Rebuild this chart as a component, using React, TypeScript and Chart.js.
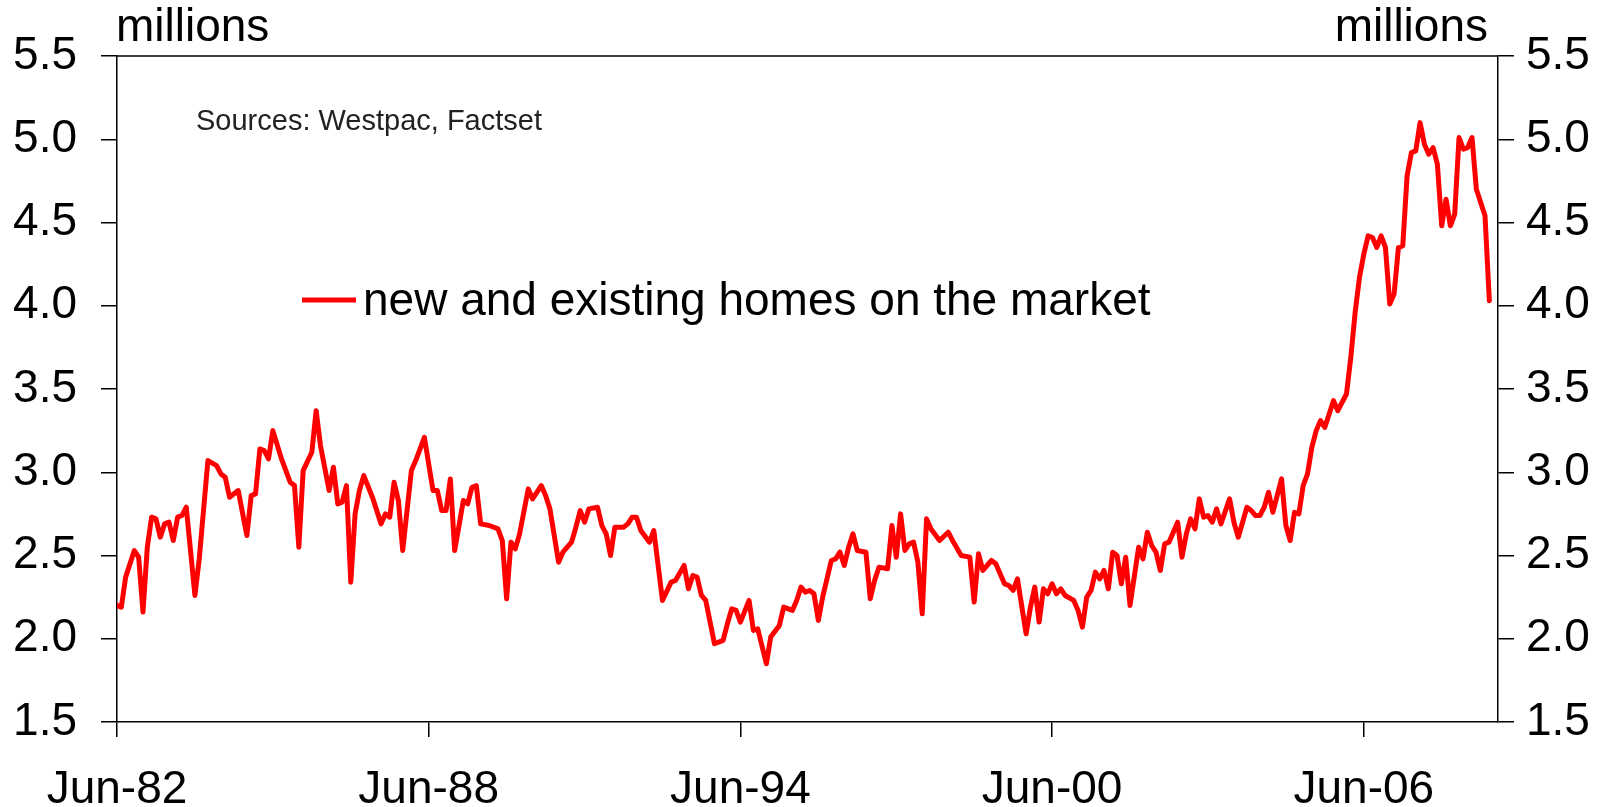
import React, { useEffect, useRef } from "react";
import { Chart, registerables } from "chart.js";

Chart.register(...registerables);

// Month offsets from Jun-1982 (0 = Jun-82, 12 = Jun-83, ...)
const months: number[] = [
  0, 1, 2, 4, 5, 6, 7, 8, 9, 10, 11, 12, 13, 14, 15, 16, 18, 19, 21, 23,
  24, 25, 26, 28, 30, 31, 32, 33, 34, 35, 36, 38, 40, 41, 42, 43, 45, 46, 47, 49,
  50, 51, 52, 53, 54, 55, 56, 57, 59, 61, 62, 63, 64, 65, 66, 68, 69, 71, 73, 74,
  75, 76, 77, 78, 80, 81, 82, 83, 84, 86, 88,
  89, 90, 91, 92, 93, 95, 96, 98, 99, 100, 102, 103, 105, 106, 107, 108, 109, 111, 112,
  113, 114, 115, 117, 118, 119, 120, 121, 123, 124, 126, 128, 129, 131, 132, 133, 134, 135, 136,
  138, 140, 141, 142, 143, 144, 146, 147, 148, 150, 151, 153, 154, 156, 157, 158, 159, 160, 161,
  162, 163, 165, 166, 167, 168, 169, 170, 171, 173, 174, 175, 176, 178, 179, 180,
  181, 182, 183, 184, 185, 186, 187, 188, 190, 192, 193, 195, 197, 198, 199, 200, 202, 203, 205,
  206, 207, 208, 210, 211, 212, 213, 214, 215, 216, 217, 218, 219, 221, 222, 223, 224, 225, 226,
  227, 228, 229, 230, 231, 232, 233, 234, 236, 237, 238,
  239, 240, 241, 242, 243, 245, 246, 247, 248, 249, 250, 251, 252, 253, 254, 255, 257, 258, 259,
  261, 262, 263, 264, 265, 266, 267, 269, 270, 271, 272, 273, 274, 275, 276, 277, 278, 279, 281,
  282, 284, 285, 286, 287, 288, 289, 290, 291, 292, 293, 294, 295, 296, 297, 298, 299, 300, 301,
  302, 303, 304, 305, 306, 307, 308, 309, 310, 311, 312, 313, 314, 315, 316, 317,
];

// New and existing homes on the market, millions
const homesOnMarket: number[] = [
  2.2, 2.19, 2.37, 2.53, 2.49, 2.16, 2.55, 2.73, 2.72, 2.61, 2.69, 2.7, 2.59, 2.73, 2.74, 2.79, 2.26, 2.48, 3.07, 3.04,
  2.99, 2.97, 2.85, 2.89, 2.62, 2.86, 2.87, 3.14, 3.13, 3.08, 3.25, 3.08, 2.94, 2.92, 2.55, 3.01, 3.12, 3.37, 3.16, 2.89,
  3.03, 2.81, 2.82, 2.92, 2.34, 2.75, 2.89, 2.98, 2.85, 2.69, 2.75, 2.73, 2.94, 2.83, 2.53, 3.01, 3.07, 3.21, 2.89, 2.89,
  2.77, 2.77, 2.96, 2.53, 2.83, 2.81, 2.91, 2.92, 2.69, 2.68, 2.66,
  2.59, 2.24, 2.58, 2.54, 2.63, 2.9, 2.84, 2.92, 2.86, 2.78, 2.46, 2.52, 2.58, 2.67, 2.77, 2.7, 2.78, 2.79, 2.68,
  2.63, 2.5, 2.67, 2.67, 2.69, 2.73, 2.73, 2.65, 2.58, 2.65, 2.23, 2.34, 2.35, 2.44, 2.3, 2.38, 2.37, 2.26, 2.23,
  1.97, 1.99, 2.09, 2.18, 2.17, 2.1, 2.23, 2.05, 2.06, 1.85, 2.01, 2.08, 2.19, 2.17, 2.23, 2.31, 2.28, 2.29, 2.27,
  2.11, 2.25, 2.47, 2.48, 2.52, 2.44, 2.55, 2.63, 2.53, 2.52, 2.24, 2.35, 2.43, 2.42, 2.68, 2.49,
  2.75, 2.53, 2.57, 2.58, 2.46, 2.15, 2.72, 2.66, 2.59, 2.64, 2.59, 2.5, 2.49, 2.22, 2.51, 2.41, 2.47, 2.45, 2.33,
  2.32, 2.29, 2.36, 2.03, 2.19, 2.31, 2.1, 2.3, 2.27, 2.33, 2.27, 2.3, 2.26, 2.23, 2.17, 2.07, 2.25, 2.29, 2.4,
  2.36, 2.41, 2.3, 2.52, 2.5, 2.33, 2.49, 2.2, 2.55, 2.48, 2.64,
  2.56, 2.52, 2.41, 2.57, 2.58, 2.7, 2.49, 2.63, 2.72, 2.66, 2.84, 2.73, 2.74, 2.7, 2.78, 2.69, 2.84, 2.7, 2.61,
  2.79, 2.77, 2.74, 2.74, 2.79, 2.88, 2.76, 2.96, 2.68, 2.59, 2.76, 2.75, 2.92, 2.99, 3.15, 3.25, 3.31, 3.27, 3.43,
  3.37, 3.47, 3.69, 3.96, 4.17, 4.31, 4.42, 4.41, 4.35, 4.42, 4.35, 4.01, 4.07, 4.35, 4.36, 4.78, 4.92, 4.93, 5.1,
  4.97, 4.91, 4.95, 4.85, 4.48, 4.64, 4.48, 4.55, 5.01, 4.94, 4.95, 5.01, 4.7, 4.62, 4.54, 4.03,
];

const xTickMonths: number[] = [0, 72, 144, 216, 288];
const xTickLabels: string[] = ["Jun-82", "Jun-88", "Jun-94", "Jun-00", "Jun-06"];
const xMin = 0;
const xMax = 319;
const yMin = 1.5;
const yMax = 5.5;
const yStep = 0.5;

const seriesLabel = "new and existing homes on the market";
const unitLabel = "millions";
const sourceNote = "Sources: Westpac, Factset";

const FONT = '"Liberation Sans", Arial, Helvetica, sans-serif';
const RED = "#ff0000";

const overlayPlugin = {
  id: "overlay",
  afterDraw(chart: any) {
    const { ctx, chartArea } = chart;
    ctx.save();
    // top frame line
    ctx.strokeStyle = "#000";
    ctx.lineWidth = 1.5;
    ctx.beginPath();
    ctx.moveTo(chartArea.left, chartArea.top);
    ctx.lineTo(chartArea.right, chartArea.top);
    ctx.stroke();

    ctx.fillStyle = "#000";
    ctx.textBaseline = "middle";
    ctx.font = `46px ${FONT}`;
    ctx.textAlign = "left";
    ctx.fillText(unitLabel, chartArea.left - 1, 28);
    ctx.textAlign = "right";
    ctx.fillText(unitLabel, chartArea.right - 10, 28);

    ctx.font = `29px ${FONT}`;
    ctx.fillStyle = "#222";
    ctx.textAlign = "left";
    ctx.fillText(sourceNote, chartArea.left + 79, 122);

    // legend
    const ds = chart.data.datasets[0];
    const lx = chartArea.left + 185;
    const ly = 300;
    ctx.strokeStyle = ds.borderColor;
    ctx.lineWidth = 5;
    ctx.beginPath();
    ctx.moveTo(lx, ly);
    ctx.lineTo(lx + 54, ly);
    ctx.stroke();
    ctx.fillStyle = "#000";
    ctx.font = `46px ${FONT}`;
    ctx.fillText(ds.label, lx + 61, ly + 2);
    ctx.restore();
  },
};

export default function App() {
  const ref = useRef<HTMLCanvasElement | null>(null);
  useEffect(() => {
    document.body.style.margin = "0";
    const canvas = ref.current;
    if (!canvas) return;
    const points = months.map((m, i) => ({ x: m, y: homesOnMarket[i] }));
    const yAxisCommon = (position: string, width: number, padding: number) => ({
      type: "linear",
      position,
      display: true,
      min: yMin,
      max: yMax,
      afterFit: (scale: any) => {
        scale.width = width;
      },
      ticks: {
        stepSize: yStep,
        padding,
        color: "#000",
        font: { family: FONT, size: 46 },
        callback: (v: any) => Number(v).toFixed(1),
      },
      grid: {
        drawOnChartArea: false,
        drawTicks: true,
        tickLength: 16,
        color: "#000",
        lineWidth: 1.5,
      },
      border: { display: true, color: "#000", width: 1.5 },
    });
    const chart = new Chart(canvas, {
      type: "line",
      data: {
        datasets: [
          {
            label: seriesLabel,
            data: points,
            borderColor: RED,
            backgroundColor: RED,
            borderWidth: 5,
            pointRadius: 0,
            tension: 0,
            borderJoinStyle: "round",
            borderCapStyle: "round",
            yAxisID: "y",
          },
        ],
      },
      options: {
        responsive: false,
        animation: false,
        devicePixelRatio: 1,
        layout: { padding: { top: 56, left: 0, right: 0, bottom: 0 } },
        plugins: { legend: { display: false }, tooltip: { enabled: false } },
        scales: {
          x: {
            type: "linear",
            position: "bottom",
            min: xMin,
            max: xMax,
            afterFit: (scale: any) => {
              scale.height = 85;
            },
            afterBuildTicks: (scale: any) => {
              scale.ticks = xTickMonths.map((v) => ({ value: v }));
            },
            ticks: {
              autoSkip: false,
              maxRotation: 0,
              padding: 26,
              color: "#000",
              font: { family: FONT, size: 46 },
              callback: (v: any) => {
                const i = xTickMonths.indexOf(Number(v));
                return i >= 0 ? xTickLabels[i] : null;
              },
            },
            grid: {
              drawOnChartArea: false,
              drawTicks: true,
              tickLength: 15,
              color: "#000",
              lineWidth: 1.5,
            },
            border: { display: true, color: "#000", width: 1.5 },
          },
          y: yAxisCommon("left", 117, 24) as any,
          y2: yAxisCommon("right", 119, 12) as any,
        },
      } as any,
      plugins: [overlayPlugin],
    });
    return () => chart.destroy();
  }, []);
  return (
    <div style={{ width: 1617, height: 807 }}>
      <canvas ref={ref} width={1617} height={807} style={{ display: "block" }} />
    </div>
  );
}
